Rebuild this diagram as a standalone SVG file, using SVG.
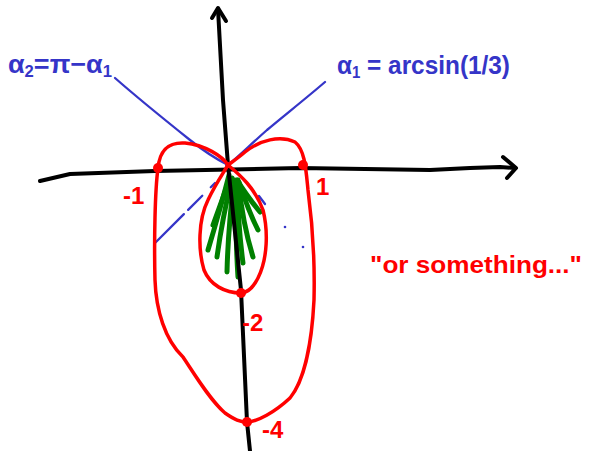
<svg xmlns="http://www.w3.org/2000/svg" width="592" height="451" viewBox="0 0 592 451">
<style>
.ax{fill:none;stroke:#000;stroke-width:4;stroke-linecap:round;stroke-linejoin:round}
.rd{fill:none;stroke:#f00;stroke-width:3.5;stroke-linecap:round;stroke-linejoin:round}
.bl{fill:none;stroke:#3535c8;stroke-width:2.3;stroke-linecap:round}
.gr{fill:none;stroke:#008000;stroke-width:5;stroke-linecap:round}
.dot{fill:#f00}
.bt{font-family:"Liberation Sans",Arial,sans-serif;fill:#3535c8;font-size:26px;font-weight:bold}
.rt{font-family:"Liberation Sans",Arial,sans-serif;fill:#f00;font-size:24px;font-weight:bold}
</style>
<rect width="592" height="451" fill="#fff"/>
<g id="shading">
<path class="gr" d="M229,175 Q220,210 208,250"/>
<path class="gr" d="M230,178 L213,225"/>
<path class="gr" d="M232,178 Q222,220 217,257"/>
<path class="gr" d="M234,180 Q228,230 227,272"/>
<path class="gr" d="M236,180 Q235,230 238,277"/>
<path class="gr" d="M237,180 Q238,225 243,263"/>
<path class="gr" d="M238,180 Q243,225 253,257"/>
<path class="gr" d="M239,182 Q248,210 258,230"/>
<path class="gr" d="M238,182 Q250,200 260,212"/>
</g>
<g id="axes">
<path class="ax" d="M218,9 L223,100 L228,165 L241,290 L247,422 L250,451"/>
<path class="ax" d="M212,18 L218,8 L226,21"/>
<path class="ax" d="M40,181 L70,174 L155,171 L300,168 L430,170 L470,168 L500,167 L515,168"/>
<path class="ax" d="M503,157 L516,168 L507,178"/>
</g>
<g id="connectors">
<path class="bl" d="M115,78 C140,100 175,128 190,140 C205,152 218,160 228,165"/>
<path class="bl" d="M325,82 C310,95 285,115 267,130 C250,145 240,155 228,165"/>
<path class="bl" d="M215,183 L155,243" stroke-dasharray="6 12 20 6 60"/>
<path class="bl" d="M259,196 L265,204"/>
<circle cx="285" cy="227" r="1.3" fill="#3535c8"/>
<circle cx="303" cy="247" r="1.3" fill="#3535c8"/>
<circle cx="228" cy="165" r="3" fill="#3535c8"/>
</g>
<g id="curve">
<path class="rd" d="M228,165 C222,156 205,145 185,143 C170,142 160,148 158,168 C155,190 154,240 155,280 C156,310 165,340 183,357 C195,375 210,400 225,413 C235,420 240,422 247,422 C257,422 275,412 290,398 C305,380 312,340 314,300 C315,260 312,220 308,190 C306,170 305,150 295,142 C280,135 260,140 245,152 C238,158 232,162 228,165 Z"/>
<path class="rd" d="M228,165 C240,175 255,188 263,210 C268,230 268,258 258,278 C252,290 245,293 241,293 C225,293 210,285 204,270 C198,250 198,220 208,200 C215,185 222,175 228,165 Z"/>
<circle class="dot" cx="158" cy="168" r="5"/>
<circle class="dot" cx="303" cy="165" r="5"/>
<circle class="dot" cx="241" cy="293" r="5"/>
<circle class="dot" cx="247" cy="422" r="5"/>
</g>
<g id="labels">
<text class="bt" x="8" y="73" textLength="104" lengthAdjust="spacingAndGlyphs">α<tspan font-size="16" dy="4">2</tspan><tspan dy="-4">=π−α</tspan><tspan font-size="16" dy="4">1</tspan></text>
<text class="bt" x="337" y="74" textLength="173" lengthAdjust="spacingAndGlyphs">α<tspan font-size="16" dy="4">1</tspan><tspan dy="-4"> = arcsin(1/3)</tspan></text>
<text class="rt" x="123" y="204">-1</text>
<text class="rt" x="316" y="195">1</text>
<text class="rt" x="242" y="331">-2</text>
<text class="rt" x="262" y="438">-4</text>
<text class="rt" x="370" y="273" font-size="30" textLength="212" lengthAdjust="spacingAndGlyphs">"or something..."</text>
</g>
</svg>
